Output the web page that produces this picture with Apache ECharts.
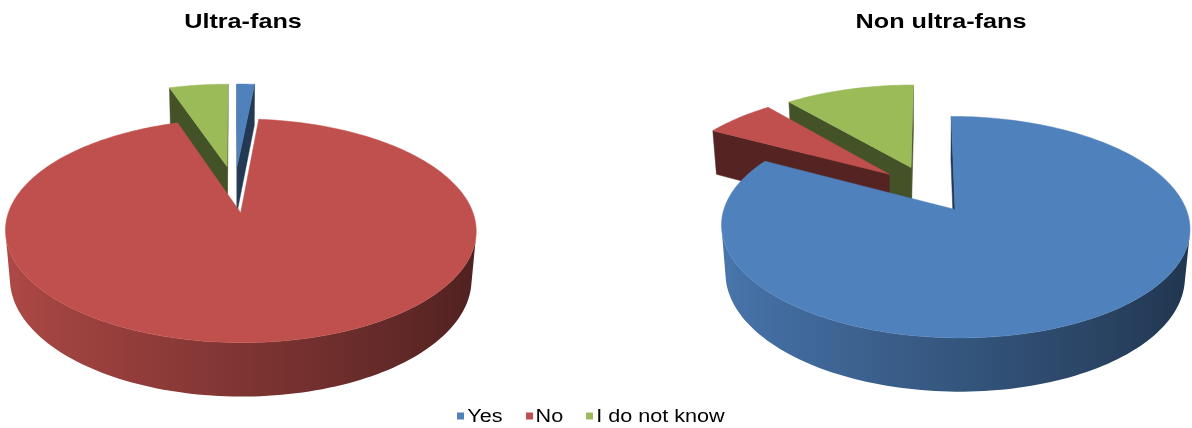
<!DOCTYPE html>
<html>
<head>
<meta charset="utf-8">
<script src="https://cdn.jsdelivr.net/npm/echarts@6/dist/echarts.min.js"></script>
<style>
  html, body { margin: 0; padding: 0; background: #ffffff; }
  #chart { width: 1192px; height: 428px; }
</style>
</head>
<body>
<div id="chart"></div>
<script>
// Share of answers (percent) in each group of fans
const groups = ['Ultra-fans', 'Non ultra-fans'];
const answers = ['Yes', 'No', 'I do not know'];
const yesShare = [1.5, 83];
const noShare = [93.5, 6];
const dontKnowShare = [5, 11];
const shares = [yesShare, noShare, dontKnowShare];
const answerColors = ['#4F81BD', '#C0504D', '#9BBB59'];

// Look of the exploded 3-D pies
const EXPLODE = 0.23;        // slice offset, in pie radii
const THICKNESS = 0.238;     // height of the pie, in pie radii
const TILT = 26.9 * Math.PI / 180;
const PERSPECTIVE = 0.155;
const RADIUS = 0.188;        // pie radius as a fraction of the chart width
const pieLayout = [{ cx: 0.197, cy: 0.441 }, { cx: 0.7785, cy: 0.441 }];
const STEP = 1.5 * Math.PI / 180;

// Text is drawn a little wider than the font's natural width
const FONT = '"Liberation Sans", Arial, sans-serif';
const TEXT_STRETCH = 1.2;
const titleCenters = [243, 941];

const sinT = Math.sin(TILT), cosT = Math.cos(TILT);
const CAM_DIST = cosT / PERSPECTIVE;
const camera = [0, CAM_DIST * sinT, CAM_DIST * cosT];

function sliceAngles(g) {
  const vals = shares.map(s => s[g]);
  const total = vals.reduce((a, b) => a + b, 0);
  let acc = 0;
  return vals.map(v => {
    const a0 = acc / total * 2 * Math.PI;
    acc += v;
    return [a0, acc / total * 2 * Math.PI];
  });
}

// world point [x, height, z] -> screen pixel (angles run clockwise from 12 o'clock)
function project(p, g, W, H) {
  const q = 1 - PERSPECTIVE * p[2] - p[1] * sinT / CAM_DIST;
  const f = RADIUS * W;
  return [pieLayout[g].cx * W + f * p[0] / q,
          pieLayout[g].cy * H + f * (p[2] * sinT - p[1] * cosT) / q];
}

function rim(o, t, h) { return [o[0] + Math.sin(t), h, o[1] - Math.cos(t)]; }

function facing(p, n) {
  return (camera[0] - p[0]) * n[0] + (camera[1] - p[1]) * n[1] + (camera[2] - p[2]) * n[2] > 0;
}

function shade(hex, f) {
  const c = parseInt(hex.slice(1), 16);
  const ch = [(c >> 16) & 255, (c >> 8) & 255, c & 255].map(v => Math.max(0, Math.min(255, Math.round(v * f))));
  return 'rgb(' + ch.join(',') + ')';
}

function wallShade(t) { return 0.66 - 0.26 * Math.sin(t); }

function renderSlice(params, api) {
  const a = params.seriesIndex, g = params.dataIndex;
  const W = api.getWidth(), H = api.getHeight();
  const [a0, a1] = sliceAngles(g)[a];
  const mid = (a0 + a1) / 2;
  const o = [EXPLODE * Math.sin(mid), -EXPLODE * Math.cos(mid)];
  const base = answerColors[a];
  const P = p => project(p, g, W, H);
  const children = [];
  const n = Math.max(1, Math.ceil((a1 - a0) / STEP));
  const ts = [];
  for (let i = 0; i <= n; i++) ts.push(a0 + (a1 - a0) * i / n);

  // outer wall: contiguous runs of strips that face the viewer
  const runs = [];
  let cur = null;
  for (let i = 0; i < n; i++) {
    const tm = (ts[i] + ts[i + 1]) / 2;
    const vis = facing(rim(o, tm, -THICKNESS / 2), [Math.sin(tm), 0, -Math.cos(tm)]);
    if (vis) { if (!cur) { cur = [i, i]; runs.push(cur); } else cur[1] = i; }
    else cur = null;
  }
  runs.forEach(([i0, i1]) => {
    const topPts = [], botPts = [], stops = [];
    for (let i = i0; i <= i1 + 1; i++) {
      topPts.push(P(rim(o, ts[i], 0)));
      botPts.push(P(rim(o, ts[i], -THICKNESS)));
    }
    const xs = topPts.map(p => p[0]);
    const xMin = Math.min.apply(null, xs), xMax = Math.max.apply(null, xs);
    for (let i = i0; i <= i1 + 1; i++) {
      const x = topPts[i - i0][0];
      stops.push({ offset: xMax > xMin ? (x - xMin) / (xMax - xMin) : 0, color: shade(base, wallShade(ts[i])) });
    }
    stops.sort((s1, s2) => s1.offset - s2.offset);
    const fill = new echarts.graphic.LinearGradient(0, 0, 1, 0, stops, false);
    const tmid = (ts[i0] + ts[i1 + 1]) / 2;
    const pm = rim(o, tmid, -THICKNESS / 2);
    children.push({
      type: 'polygon', z2: 500 + 100 * pm[2],
      shape: { points: topPts.concat(botPts.reverse()) },
      style: { fill: fill, stroke: null }
    });
  });

  // the two cut faces of the slice
  [[a0, [-Math.cos(a0), 0, -Math.sin(a0)]], [a1, [Math.cos(a1), 0, Math.sin(a1)]]].forEach(([t, normal]) => {
    const pm = [o[0] + 0.5 * Math.sin(t), -THICKNESS / 2, o[1] - 0.5 * Math.cos(t)];
    if (!facing(pm, normal)) return;
    const col = shade(base, 0.44);
    children.push({
      type: 'polygon', z2: 500 + 100 * pm[2],
      shape: { points: [P([o[0], 0, o[1]]), P(rim(o, t, 0)), P(rim(o, t, -THICKNESS)), P([o[0], -THICKNESS, o[1]])] },
      style: { fill: col, stroke: col, lineWidth: 0.5 }
    });
  });

  // top face
  const top = [P([o[0], 0, o[1]])].concat(ts.map(t => P(rim(o, t, 0))));
  children.push({
    type: 'polygon', z2: 1000,
    shape: { points: top },
    style: { fill: base, stroke: base, lineWidth: 0.5 }
  });

  return { type: 'group', children };
}

// width of a text at a given font, before stretching
const measureCtx = document.createElement('canvas').getContext('2d');
function textWidth(text, size, weight) {
  measureCtx.font = (weight || 'normal') + ' ' + size + 'px ' + FONT;
  return measureCtx.measureText(text).width;
}

// chart titles
const titleElements = groups.map((name, g) => ({
  type: 'text',
  x: titleCenters[g], y: 22,
  scaleX: TEXT_STRETCH,
  style: { text: name, font: 'bold 21px ' + FONT, fill: '#000000', align: 'center', verticalAlign: 'middle' }
}));

// legend: colour square + answer text, centred under the two pies
const LEGEND_SIZE = 18, LEGEND_Y = 416, LEGEND_CENTER = 591, SQUARE = 7, SQUARE_GAP = 3, ITEM_GAP = 23;
const legendWidths = answers.map(t => SQUARE + SQUARE_GAP + textWidth(t, LEGEND_SIZE) * TEXT_STRETCH);
const legendTotal = legendWidths.reduce((s, w) => s + w, 0) + ITEM_GAP * (answers.length - 1);
const legendElements = [];
let lx = LEGEND_CENTER - legendTotal / 2;
answers.forEach((t, a) => {
  legendElements.push({
    type: 'rect', shape: { x: Math.round(lx), y: LEGEND_Y - SQUARE / 2, width: SQUARE, height: SQUARE },
    style: { fill: answerColors[a] }
  });
  legendElements.push({
    type: 'text', x: lx + SQUARE + SQUARE_GAP, y: LEGEND_Y + 1, scaleX: TEXT_STRETCH,
    style: { text: t, font: LEGEND_SIZE + 'px ' + FONT, fill: '#000000', align: 'left', verticalAlign: 'middle' }
  });
  lx += legendWidths[a] + ITEM_GAP;
});

const chart = echarts.init(document.getElementById('chart'), null, { renderer: 'canvas' });
chart.setOption({
  backgroundColor: '#ffffff',
  animation: false,
  graphic: titleElements.concat(legendElements),
  series: answers.map((name, a) => ({
    type: 'custom',
    name: name,
    coordinateSystem: 'none',
    silent: true,
    itemStyle: { color: answerColors[a] },
    data: shares[a],
    renderItem: renderSlice
  }))
});
</script>
</body>
</html>
